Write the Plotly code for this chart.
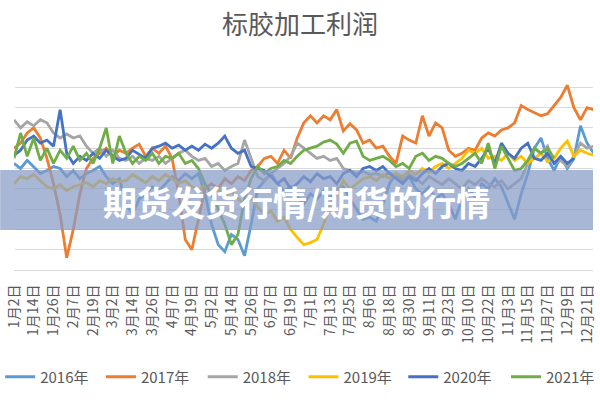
import plotly.graph_objects as go

# ---- data (profit values; one sample every 4 days) ----
tick_labels = ["1月2日", "1月14日", "1月26日", "2月7日", "2月19日", "3月2日", "3月14日", "3月26日",
               "4月7日", "4月19日", "5月2日", "5月14日", "5月26日", "6月7日", "6月19日", "7月1日",
               "7月13日", "7月25日", "8月6日", "8月18日", "8月30日", "9月11日", "9月23日", "10月10日",
               "10月22日", "11月3日", "11月15日", "11月27日", "12月9日", "12月21日"]

y2016 = [250, 200, 280, 220, 150, 180, 220, 200, 120, 180,
         100, 150, 180, 220, 120, 50, 100, -150, -250,
         -100, -50, 20, -20, 50, 120, 80, 150, 100, 150,
         -50, -350, -550, -620, -450, -500, -660, -350, 0, 80,
         150, 50, -20, 20, -80, -150, -50, -100, -20, -80,
         0, 20, -100, -200, -300, -280, -320, -150, 50,
         150, 80, 120, 0, -50, 20, -100, -50, -150, -300,
         -100, 0, -80, 50, 0, 100, 20, -150, -300, -50,
         150, 400, 500, 300, 180, 320, 200, 300, 620, 450,
         350]

y2017 = [400, 450, 550, 600, 500, 300, 50, -250, -680, -400,
         -50, 200, 300, 350, 400, 320, 380, 350, 400,
         440, 320, 400, 350, 420, 300, -50, -500, -600, -300,
         0, 50, 0, 100, 50, 120, 80, 180, 220, 300,
         320, 250, 380, 300, 500, 650, 720, 650, 720, 680,
         780, 570, 640, 580, 450, 480, 400, 420, 320,
         250, 520, 480, 450, 720, 520, 650, 600, 380, 320,
         350, 400, 380, 500, 550, 520, 580, 600, 650, 820,
         780, 750, 720, 740, 820, 900, 1020, 800, 680, 800,
         780]

y2018 = [680, 600, 660, 620, 680, 650, 550, 500, 540, 500,
         520, 420, 350, 400, 320, 380, 300, 280, 320,
         250, 300, 280, 320, 250, 300, 350, 380, 320, 280,
         300, 220, 250, 180, 220, 250, 480, 300, 120, 80,
         150, 200, 250, 320, 450, 400, 350, 300, 320, 280,
         300, 200, 180, 150, 170, 140, 150, 120, 160,
         120, 80, 140, 100, 50, 120, 80, 40, 100, 50,
         0, 80, 40, 100, 50, 20, 80, 0, 50, 100,
         250, 400, 350, 420, 250, 280, 220, 320, 450, 400,
         420]

y2019 = [50, 120, 100, 140, 80, 20, 0, 40, -20, 20,
         40, 60, 20, 80, 50, 100, 70, 80, 140,
         100, 60, 120, 80, 140, 100, 50, 80, 20, -20,
         40, -50, 0, -80, -20, -100, -150, -80, -180, -250,
         -220, -320, -280, -400, -480, -550, -530, -500, -350, -150,
         -50, 80, 0, 50, 100, 120, 80, 140, 100,
         150, 120, 180, 140, 200, 160, 220, 250, 200, 250,
         300, 380, 350, 400, 300, 320, 280, 350, 280, 320,
         250, 300, 350, 270, 300, 400, 470, 320, 380, 350,
         330]

y2020 = [330, 380, 480, 520, 450, 480, 420, 780, 350, 250,
         320, 280, 350, 300, 380, 320, 280, 300, 380,
         340, 300, 400, 420, 450, 400, 430, 380, 420, 380,
         440, 400, 450, 520, 400, 350, 380, 220, 200, 180,
         120, 50, 100, 0, 50, 120, 70, 150, 100, 120,
         50, 150, 180, 120, 200, 220, 180, 220, 150,
         100, 50, 120, 80, 150, 200, 150, 220, 250, 200,
         180, 250, 220, 300, 400, 250, 450, 350, 300, 400,
         450, 300, 280, 350, 250, 320, 250, 300]

y2021 = [300, 550, 320, 500, 280, 400, 250, 380, 300, 420,
         280, 350, 250, 400, 600, 250, 520, 350, 250,
         320, 280, 350, 250, 320, 300, 350, 250, 280, 200,
         50, -50, -200, -350, -550, -450, -100, 100, 220, 150,
         200, 220, 280, 250, 320, 380, 400, 420, 460, 480,
         440, 350, 450, 470, 320, 280, 300, 320, 280,
         220, 250, 200, 320, 350, 280, 320, 300, 250, 220,
         250, 300, 350, 250, 450, 200, 420, 300, 180, 200,
         280, 400, 350, 400, 300]

series_names = ["2016年", "2017年", "2018年", "2019年", "2020年", "2021年"]
series_values = [y2016, y2017, y2018, y2019, y2020, y2021]
series_colors = ["#5B9BD5", "#ED7D31", "#A5A5A5", "#FFC000", "#4472C4", "#70AD47"]

SAMPLE_STEP = 4   # days between samples
LABEL_STEP = 12   # days between axis labels

font_cjk = "Noto Sans CJK SC"
PLOT_L, PLOT_W = 14, 586
legend_left_px = [0, 102, 205, 307, 408, 512]

fig = go.Figure()
layout_legends = {}
for k, (name, vals, col) in enumerate(zip(series_names, series_values, series_colors)):
    lg = "legend" if k == 0 else f"legend{k + 1}"
    fig.add_trace(go.Scatter(
        x=[j * SAMPLE_STEP for j in range(len(vals))], y=vals, name=name,
        mode="lines", line=dict(color=col, width=2.8), legend=lg,
    ))
    layout_legends[lg] = dict(
        orientation="h", x=(legend_left_px[k] - PLOT_L) / PLOT_W, xanchor="left",
        y=(270 - 377) / 203, yanchor="middle", itemwidth=30,
        bgcolor="rgba(0,0,0,0)",
        font=dict(family=font_cjk, size=15, color="#595959"))

fig.update_layout(
    width=600, height=400,
    margin=dict(l=PLOT_L, r=0, t=67, b=130),
    paper_bgcolor="white", plot_bgcolor="white",
    title=dict(text="标胶加工利润", x=0.5, xref="container", y=1 - 25 / 400,
               yanchor="middle", xanchor="center",
               font=dict(family=font_cjk, size=26, color="#595959")),
    xaxis=dict(range=[0, 351.6], tickmode="array",
               tickvals=[k * LABEL_STEP for k in range(len(tick_labels))],
               ticktext=tick_labels, tickangle=-90, showgrid=False,
               showline=True, linecolor="#D9D9D9", linewidth=1, ticks="",
               ticklabelstandoff=8,
               tickfont=dict(family=font_cjk, size=14, color="#595959")),
    yaxis=dict(range=[-800, 1200], dtick=200, showticklabels=False,
               gridcolor="#D9D9D9", gridwidth=1, zeroline=False),
    showlegend=True,
    **layout_legends,
)

# overlay banner
fig.add_shape(type="rect", xref="paper", yref="paper",
              x0=-PLOT_L / PLOT_W, x1=1.0, y0=(270 - 230) / 203, y1=(270 - 170) / 203,
              fillcolor="rgba(135,155,198,0.72)", line=dict(width=0), layer="above")
fig.add_annotation(text="期货发货行情/期货的行情", xref="paper", yref="paper",
                   x=(300 - PLOT_L) / PLOT_W, y=(270 - 201) / 203, showarrow=False,
                   xanchor="center", yanchor="middle",
                   font=dict(family=font_cjk, size=34, color="white", weight="bold"))

fig.write_html("out.html")
